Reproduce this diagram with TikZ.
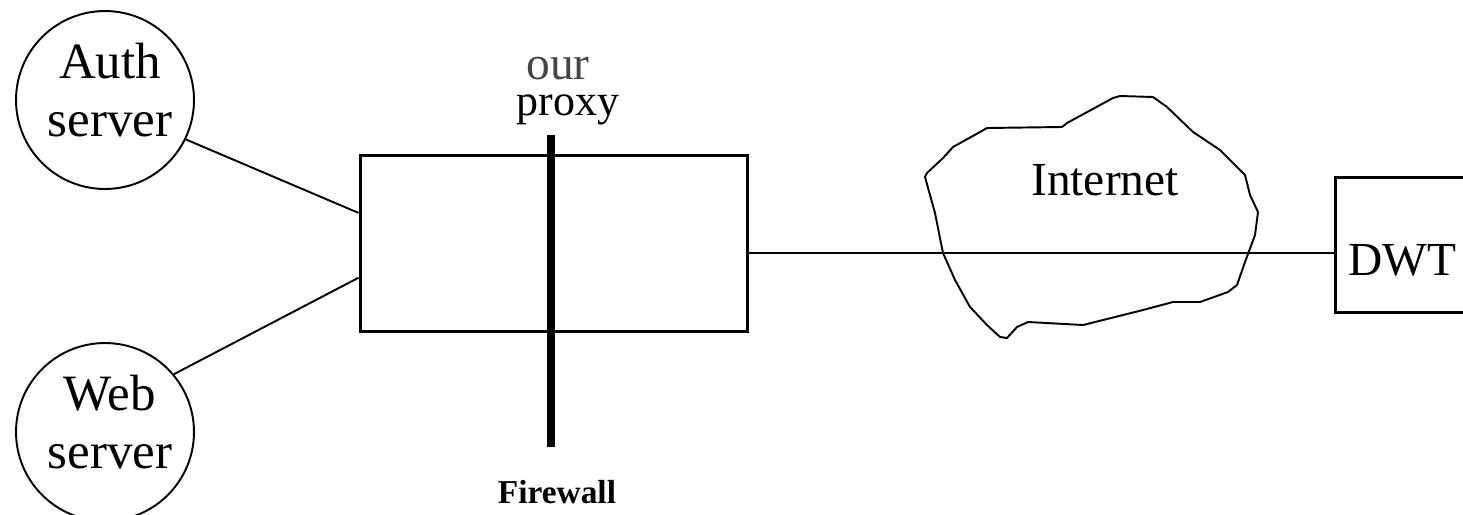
\documentclass[tikz,border=0pt]{standalone}
\usepackage{fontspec}
\setmainfont{Liberation Serif}
\usetikzlibrary{calc}
\definecolor{ink}{HTML}{000000}
\definecolor{softink}{HTML}{454545}
\tikzset{
  server/.style={circle,draw=ink,line width=1.1pt,minimum size=3.56cm,inner sep=0pt},
  srvtext/.style={align=center,font=\fontsize{29}{33}\selectfont,text=ink},
  box/.style={draw=ink,line width=1.7pt,inner sep=0pt},
  link/.style={draw=ink,line width=1.1pt},
  wall/.style={draw=ink,line width=4pt},
  cloudline/.style={draw=ink,line width=1.1pt},
  tag/.style={font=\fontsize{27}{30}\selectfont,text=ink,inner sep=0pt,anchor=base},
  fwtext/.style={font=\fontsize{19}{22}\selectfont\bfseries,text=ink,inner sep=0pt,anchor=base},
}

\begin{document}
\begin{tikzpicture}[x=.02cm,y=-.02cm]
  \useasboundingbox (0,0) rectangle (1463,514);

  % servers
  \node[server] (auth) at (105,100) {};
  \node[srvtext] (authtext) at (110,90) {Auth\\server};
  \node[server] (web) at (105,432) {};
  \node[srvtext] (webtext) at (110,422) {Web\\server};

  % proxy box and firewall
  \node[box,minimum width=7.76cm,minimum height=3.54cm] (proxy) at (554,243.5) {};
  \node[tag,text=softink] (our) at (558,79) {our};
  \node[tag,font=\fontsize{25}{28}\selectfont] (proxylbl) at (568,115) {proxy};
  \coordinate (walltop) at (551,135);
  \coordinate (wallbot) at (551,447);
  \draw[wall] (walltop) -- (wallbot);
  \node[fwtext] (fwlbl) at (557,503) {Firewall};

  \draw[link] (auth.-26) -- ($(proxy.north west)!0.33!(proxy.south west)$);
  \draw[link] (web.40) -- ($(proxy.north west)!0.69!(proxy.south west)$);

  % internet cloud
  \draw[cloudline] (925,177) -- (927,173) -- (943,158) -- (953,147) -- (980,132)
    -- (987,128) -- (1062,127) -- (1067,123) -- (1113,98) -- (1120,96)
    -- (1153,97) -- (1167,107) -- (1193,132) -- (1220,150) -- (1245,175)
    -- (1250,195) -- (1258,212) -- (1255,235) -- (1245,262) -- (1237,285)
    -- (1228,292) -- (1200,302) -- (1173,302) -- (1143,310) -- (1083,325)
    -- (1028,322) -- (1017,327) -- (1007,338) -- (1000,337) -- (987,325)
    -- (970,307) -- (955,280) -- (943,253) -- (935,213) -- cycle;
  \node[tag] (net) at (1105,195) {Internet};

  % remote end
  \node[box,minimum width=2.68cm,minimum height=2.7cm] (dwt) at (1402,245) {};
  \node[tag] (dwtlbl) at (1402,275) {DWT};

  \coordinate (netline) at (0,253);
  \draw[link,line width=1.5pt] (proxy.east |- netline) -- (dwt.west |- netline);
\end{tikzpicture}
\end{document}
